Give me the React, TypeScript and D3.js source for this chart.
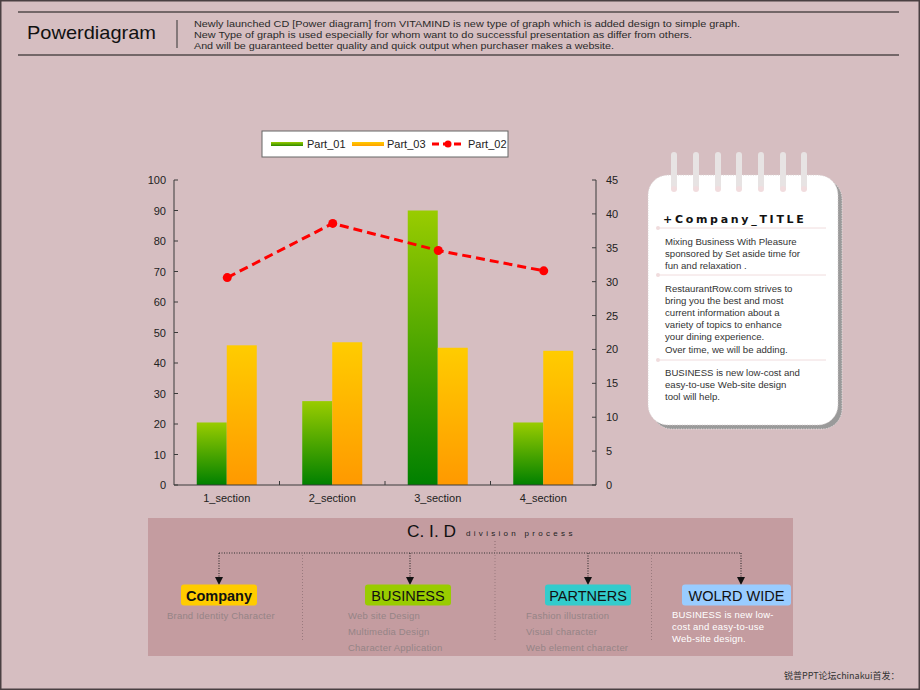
import React, { useEffect } from "react";
import * as d3 from "d3";

const categories = ["1_section", "2_section", "3_section", "4_section"];
const part01 = [20.5, 27.5, 90, 20.5];
const part03 = [45.8, 46.8, 45, 44];
const part02 = [30.6, 38.6, 34.6, 31.6];
const leftTicks = [0, 10, 20, 30, 40, 50, 60, 70, 80, 90, 100];
const rightTicks = [0, 5, 10, 15, 20, 25, 30, 35, 40, 45];
const legendItems = ["Part_01", "Part_03", "Part_02"];

const headerLines = [
  "Newly launched CD [Power diagram]  from  VITAMIND is new type of graph which is added design to simple  graph.",
  "New Type of graph is used especially for whom want to do successful presentation as differ from others.",
  "And will be guaranteed better quality and quick output when purchaser makes a website.",
];
const headerWidths = [546, 498, 420];

const noteBlocks = [
  ["Mixing Business With Pleasure", "sponsored by Set aside time for", "fun and relaxation ."],
  [
    "RestaurantRow.com strives to",
    "bring you the best and most",
    "current information about a",
    "variety of topics to enhance",
    "your dining experience.",
    "Over time, we will be adding.",
  ],
  ["BUSINESS  is new low-cost and", "easy-to-use  Web-site design", "tool will help."],
];

const cidNames = ["Company", "BUSINESS", "PARTNERS", "WOLRD WIDE"];
const cidColors = ["#ffcc00", "#99cc00", "#33cccc", "#99ccff"];
const cidSub = [
  ["Brand Identity Character"],
  ["Web site Design", "Multimedia  Design", "Character Application"],
  ["Fashion  illustration", "Visual character", "Web element   character"],
  ["BUSINESS  is new low-", "cost and easy-to-use", "Web-site  design."],
];

const F = "'Liberation Sans', Arial, sans-serif";

export default function App() {
  useEffect(() => {
    document.body.style.margin = "0";
  }, []);

  const x = d3.scaleBand().domain(categories).range([174, 596]).padding(0);
  const sub = d3
    .scaleBand()
    .domain(["Part_01", "Part_03"])
    .range([0, x.bandwidth()])
    .paddingInner(0)
    .paddingOuter(0.758);
  const yL = d3.scaleLinear().domain([0, 100]).range([485, 180]);
  const yR = d3.scaleLinear().domain([0, 45]).range([485, 180]);
  const cx = (i: number) => (x(categories[i]) as number) + x.bandwidth() / 2 + 0.5;
  const line = d3
    .line<number>()
    .x((_, i) => cx(i))
    .y((d) => yR(d));

  const axisColor = "#3a3a3a";

  const cidBoxes = [
    { x0: 181, x1: 257, arrow: 219, sx: 167 },
    { x0: 365, x1: 451, arrow: 410, sx: 348 },
    { x0: 545, x1: 631, arrow: 588, sx: 526 },
    { x0: 682, x1: 791, arrow: 741, sx: 672 },
  ];
  const seps = [302.5, 495, 651.5];

  const ringXs = [674, 696, 718, 739, 761, 783, 804];

  return (
    <svg
      width={920}
      height={690}
      style={{ position: "absolute", left: 0, top: 0, display: "block" }}
      fontFamily={F}
    >
      <defs>
        <linearGradient id="gGreen" x1="0" y1="0" x2="0" y2="1">
          <stop offset="0" stopColor="#99cc00" />
          <stop offset="1" stopColor="#008000" />
        </linearGradient>
        <linearGradient id="gOrange" x1="0" y1="0" x2="0" y2="1">
          <stop offset="0" stopColor="#ffcc00" />
          <stop offset="1" stopColor="#ff9900" />
        </linearGradient>
        <linearGradient id="gLegG" x1="0" y1="0" x2="0" y2="1">
          <stop offset="0" stopColor="#99cc00" />
          <stop offset="1" stopColor="#2f8a00" />
        </linearGradient>
        <linearGradient id="gLegO" x1="0" y1="0" x2="0" y2="1">
          <stop offset="0" stopColor="#ffcc00" />
          <stop offset="1" stopColor="#ffa000" />
        </linearGradient>
      </defs>

      {/* background */}
      <rect x={0} y={0} width={920} height={690} fill="#d6bec1" />
      <rect x={0.75} y={0.75} width={918.5} height={688.5} fill="none" stroke="#4a4042" strokeWidth={1.5} />

      {/* header */}
      <line x1={18} x2={899} y1={12} y2={12} stroke="#111" strokeWidth={1.2} />
      <line x1={18} x2={899} y1={55} y2={55} stroke="#111" strokeWidth={1.2} />
      <text x={27} y={39} fontSize={19} fill="#111" textLength={129} lengthAdjust="spacingAndGlyphs">
        Powerdiagram
      </text>
      <line x1={177} x2={177} y1={20} y2={48} stroke="#333" strokeWidth={1} />
      {headerLines.map((t, i) => (
        <text
          key={i}
          x={194}
          y={27 + i * 11}
          fontSize={9}
          fill="#2a2a2a"
          textLength={headerWidths[i]}
          lengthAdjust="spacingAndGlyphs"
        >
          {t}
        </text>
      ))}

      {/* legend */}
      <rect x={262} y={131} width={246} height={26} fill="#fff" stroke="#666" strokeWidth={1} />
      <rect x={271} y={142} width={32} height={4} fill="url(#gLegG)" />
      <text x={307} y={148} fontSize={11} fill="#222">{legendItems[0]}</text>
      <rect x={352} y={142} width={32} height={4} fill="url(#gLegO)" />
      <text x={387} y={148} fontSize={11} fill="#222">{legendItems[1]}</text>
      <line x1={432} x2={464} y1={144} y2={144} stroke="#ff0000" strokeWidth={3} strokeDasharray="7,4" />
      <circle cx={448} cy={144} r={3.5} fill="#ff0000" />
      <text x={468} y={148} fontSize={11} fill="#222">{legendItems[2]}</text>

      {/* bars */}
      {categories.map((c, i) => {
        const gx = x(c) as number;
        return (
          <g key={c}>
            <rect
              x={gx + (sub("Part_01") as number)}
              y={yL(part01[i])}
              width={sub.bandwidth()}
              height={485 - yL(part01[i])}
              fill="url(#gGreen)"
            />
            <rect
              x={gx + (sub("Part_03") as number)}
              y={yL(part03[i])}
              width={sub.bandwidth()}
              height={485 - yL(part03[i])}
              fill="url(#gOrange)"
            />
          </g>
        );
      })}

      {/* axes */}
      <line x1={174} x2={174} y1={180} y2={485} stroke={axisColor} />
      <line x1={596} x2={596} y1={180} y2={485} stroke={axisColor} />
      <line x1={174} x2={596} y1={485} y2={485} stroke={axisColor} />
      {leftTicks.map((t) => (
        <g key={"l" + t}>
          <line x1={174} x2={178} y1={yL(t)} y2={yL(t)} stroke={axisColor} />
          <text x={166} y={yL(t) + 4} fontSize={11} textAnchor="end" fill="#222">
            {t}
          </text>
        </g>
      ))}
      {rightTicks.map((t) => (
        <g key={"r" + t}>
          <line x1={592} x2={596} y1={yR(t)} y2={yR(t)} stroke={axisColor} />
          <text x={606} y={yR(t) + 4} fontSize={11} fill="#222">
            {t}
          </text>
        </g>
      ))}
      {categories.slice(1).map((c) => (
        <line key={"bt" + c} x1={x(c) as number} x2={x(c) as number} y1={485} y2={481} stroke={axisColor} />
      ))}
      {categories.map((c) => (
        <text
          key={"bl" + c}
          x={(x(c) as number) + x.bandwidth() / 2}
          y={502}
          fontSize={11}
          textAnchor="middle"
          fill="#222"
        >
          {c}
        </text>
      ))}

      {/* line series */}
      <path d={line(part02) || ""} fill="none" stroke="#ff0000" strokeWidth={3} strokeDasharray="9,5" />
      {part02.map((v, i) => (
        <circle key={"p" + i} cx={cx(i)} cy={yR(v)} r={4.5} fill="#ff0000" />
      ))}

      {/* notepad */}
      <rect x={652} y={179} width={190} height={250} rx={20} fill="#9a9a9a" stroke="#e8e8e8" strokeWidth={1} strokeDasharray="1,1.5" />
      <rect x={648} y={175} width={190} height={250} rx={20} fill="#ffffff" stroke="#d8d0d0" strokeWidth={1} strokeDasharray="1,1.5" />
      {ringXs.map((rx) => (
        <g key={"ring" + rx}>
          <rect x={rx - 3} y={152} width={6} height={38} rx={3} fill="#e7e3e3" />
          <circle cx={rx} cy={189} r={3} fill="#f1dcde" />
        </g>
      ))}
      <text x={663} y={223} fontSize={11} fontWeight="bold" fill="#111" letterSpacing={2.7} fontFamily="'DejaVu Sans', sans-serif">
        +Company_TITLE
      </text>
      {[228, 275, 360].map((yy) => (
        <g key={"sep" + yy}>
          <line x1={657} x2={826} y1={yy} y2={yy} stroke="#f0dcdd" strokeWidth={1} />
          <circle cx={658} cy={yy} r={2} fill="#f0dcdd" />
        </g>
      ))}
      {noteBlocks.map((blk, bi) => {
        const starts = [245, 291.5, 376];
        return blk.map((t, li) => (
          <text key={bi + "-" + li} x={665} y={starts[bi] + li * 12.2} fontSize={9.6} fill="#333">
            {t}
          </text>
        ));
      })}

      {/* CID panel */}
      <rect x={148} y={518} width={645} height={138} fill="#c39a9e" opacity={0.95} />
      <text x={407} y={537} fontSize={16.5} fill="#111" textLength={49} lengthAdjust="spacingAndGlyphs">
        C. I. D
      </text>
      <text x={466} y={536} fontSize={8} fill="#222" letterSpacing={3.3}>
        division process
      </text>
      <line x1={495} x2={495} y1={541} y2={553} stroke="#8a6a6e" strokeDasharray="1,2" />
      <line x1={219} x2={741} y1={553} y2={553} stroke="#333" strokeDasharray="1,1.5" />
      {seps.map((sx) => (
        <line key={"vs" + sx} x1={sx} x2={sx} y1={555} y2={641} stroke="#9a7a7e" strokeDasharray="1,2" />
      ))}
      {cidBoxes.map((b, i) => (
        <g key={"cid" + i}>
          <line x1={b.arrow} x2={b.arrow} y1={553} y2={578} stroke="#222" strokeDasharray="1,1.5" />
          <path d={`M${b.arrow - 4},577 L${b.arrow + 4},577 L${b.arrow},585 Z`} fill="#111" />
          <rect x={b.x0} y={584.5} width={b.x1 - b.x0} height={21} rx={3} fill={cidColors[i]} />
          <text
            x={(b.x0 + b.x1) / 2}
            y={600.5}
            fontSize={14.5}
            textAnchor="middle"
            fill="#111"
            fontWeight={i === 0 ? "bold" : "normal"}
          >
            {cidNames[i]}
          </text>
          {cidSub[i].map((t, li) => (
            <text
              key={li}
              x={b.sx}
              y={i === 3 ? 618 + li * 12 : 618.5 + li * 16}
              fontSize={9.5}
              fill={i === 3 ? "#ffffff" : "#958486"}
              letterSpacing={0.2}
            >
              {t}
            </text>
          ))}
        </g>
      ))}

      {/* footer */}
      <text x={784} y={679} fontSize={9} fill="#333" fontFamily="'Noto Sans CJK SC', sans-serif">
        锐普PPT论坛chinakui首发：
      </text>
    </svg>
  );
}
